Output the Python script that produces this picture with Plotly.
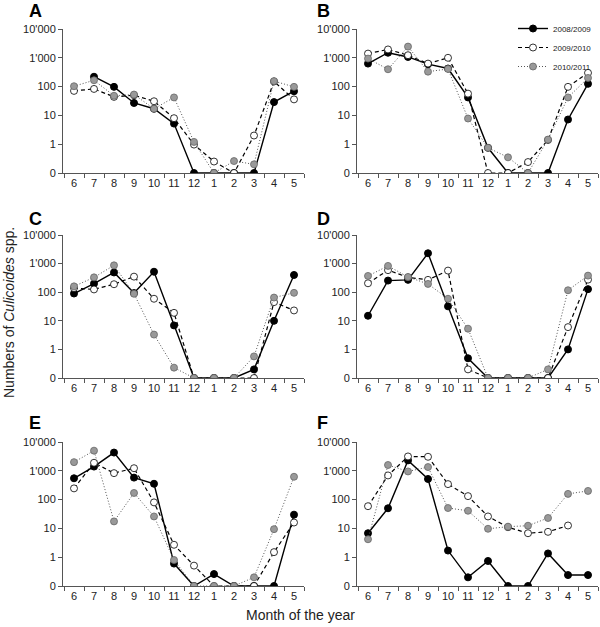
import plotly.graph_objects as go
from plotly.subplots import make_subplots

months = ["6", "7", "8", "9", "10", "11", "12", "1", "2", "3", "4", "5"]
seasons = ["2008/2009", "2009/2010", "2010/2011"]
panels = ["A", "B", "C", "D", "E", "F"]

# mean numbers per month, one list per season (None = no trap)
A_0809 = [None, 220, 98, 27, 17, 5.2, 0, 0, 0, 0, 29, 69]
A_0910 = [71, 83, 44, 50, 31, 8, 0.97, 0.25, 0, 2.0, 150, 36]
A_1011 = [103, 166, 48, 53, 17, 42, 1.2, 0, 0.26, 0.2, 155, 98]

B_0809 = [630, 1500, 1070, 600, 425, 42, 0.75, 0, 0, 0, 7.2, 125]
B_0910 = [1400, 1950, 1230, 630, 1000, 57, 0, 0, 0.24, 1.4, 98, 300]
B_1011 = [940, 400, 2450, 330, 410, 7.8, 0.75, 0.35, 0, 1.45, 42, 200]

C_0809 = [90, 200, 490, 93, 520, 6.9, 0, 0, 0, 0.2, 10, 400]
C_0910 = [140, 125, 190, 350, 59, 19, 0, 0, 0, 0, 45, 23]
C_1011 = [160, 330, 870, 88, 3.3, 0.23, 0, 0, 0, 0.57, 65, 95]

D_0809 = [15, 255, 270, 2300, 32, 0.49, 0, 0, 0, 0, 1.0, 128]
D_0910 = [205, 590, 330, 270, 570, 0.2, 0, 0, 0, 0, 6, 275]
D_1011 = [370, 830, 340, 195, 59, 5.3, 0, 0, 0, 0.2, 117, 380]

E_0809 = [550, 1400, 4300, 580, 355, 0.6, 0, 0.26, 0, 0, 0, 30]
E_0910 = [245, 1900, 830, 1230, 80, 2.7, 0.51, 0, 0, 0, 1.5, 16]
E_1011 = [2000, 5000, 17.5, 170, 26, 0.8, 0, 0, 0, 0.2, 9.4, 620]

F_0809 = [6.8, 50, 2300, 520, 1.7, 0.2, 0.74, 0, 0, 1.35, 0.24, 0.24]
F_0910 = [59, 690, 3150, 3070, 345, 132, 26, 11, 6.8, 7.6, 12.6, None]
F_1011 = [4.2, 1590, 950, 1350, 51, 41, 9.7, 11.5, 12.4, 23, 158, 200]

data = {
    "A": [A_0809, A_0910, A_1011],
    "B": [B_0809, B_0910, B_1011],
    "C": [C_0809, C_0910, C_1011],
    "D": [D_0809, D_0910, D_1011],
    "E": [E_0809, E_0910, E_1011],
    "F": [F_0809, F_0910, F_1011],
}

ytick_vals = [0.1, 1, 10, 100, 1000, 10000]
ytick_text = ["0", "1", "10", "100", "1'000", "10'000"]

# zero is drawn on the "0" tick one decade below 1
def prep(vals):
    return [None if v is None else (0.1 if v == 0 else v) for v in vals]

styles = [
    dict(line=dict(color="black", width=1.4, dash="solid"),
         marker=dict(color="black", size=7, line=dict(color="black", width=1))),
    dict(line=dict(color="black", width=1.2, dash="4px,3px"),
         marker=dict(color="white", size=7, line=dict(color="black", width=0.8))),
    dict(line=dict(color="#555555", width=1, dash="1px,2px"),
         marker=dict(color="#999999", size=7, line=dict(color="#666666", width=0.8))),
]

fig = make_subplots(rows=3, cols=2)

W, H = 600, 627
xdom = [(63 / W, 304 / W), (357 / W, 598 / W)]
ydom = [(1 - 173 / H, 1 - 29 / H), (1 - 378 / H, 1 - 235 / H), (1 - 586 / H, 1 - 442 / H)]

for i, p in enumerate(panels):
    r, c = i // 2 + 1, i % 2 + 1
    for k, s in enumerate(seasons):
        fig.add_trace(go.Scatter(
            x=months, y=prep(data[p][k]), mode="lines+markers", name=s,
            showlegend=(p == "A"), legendrank=k + 1, **styles[k]), row=r, col=c)
    fig.update_xaxes(type="category", tickson="boundaries", range=[-0.55, 11.5],
                     domain=xdom[c - 1], row=r, col=c)
    fig.update_yaxes(type="log", range=[-1, 4], tickvals=ytick_vals, ticktext=ytick_text,
                     domain=ydom[r - 1], row=r, col=c)

fig.update_xaxes(showline=True, linecolor="#555555", linewidth=1, ticks="outside",
                 ticklen=4, tickcolor="#555555", showgrid=False, zeroline=False,
                 tickangle=0, tickfont=dict(size=11, color="#222222"))
fig.update_yaxes(showline=True, linecolor="#555555", linewidth=1, ticks="outside",
                 ticklen=4, tickcolor="#555555", showgrid=False, zeroline=False,
                 tickfont=dict(size=11, color="#222222"))

letter_pos = [(27, 11), (315, 11), (27, 219), (315, 219), (27, 423), (315, 423)]
for p, (lx, ly) in zip(panels, letter_pos):
    fig.add_annotation(text="<b>" + p + "</b>", x=lx / W, y=1 - ly / H, xref="paper",
                       yref="paper", xanchor="left", yanchor="middle", showarrow=False,
                       font=dict(size=18, color="black"))

fig.add_annotation(text="Numbers of <i>Culicoides</i> spp.", x=9 / W, y=1 - 313 / H,
                   xref="paper", yref="paper", xanchor="center", yanchor="middle",
                   textangle=-90, showarrow=False, font=dict(size=14, color="#222222"))
fig.add_annotation(text="Month of the year", x=0.5, y=1 - 615 / H, xref="paper",
                   yref="paper", xanchor="center", yanchor="middle", showarrow=False,
                   font=dict(size=14, color="#222222"))

fig.update_layout(
    width=W, height=H, margin=dict(l=0, r=0, t=0, b=0, autoexpand=False),
    paper_bgcolor="white", plot_bgcolor="white",
    font=dict(family="Liberation Sans, Arial, sans-serif"),
    legend=dict(x=513 / W, y=1 - 14 / H, xanchor="left", yanchor="top",
                font=dict(size=8, color="#222222"), bgcolor="rgba(0,0,0,0)",
                itemwidth=30, tracegroupgap=0),
)

# drop the browser's default 8px body margin so the figure sits at (0, 0)
fig.write_html("out.html", config={"displayModeBar": False},
               post_script="document.body.style.margin = '0';")
